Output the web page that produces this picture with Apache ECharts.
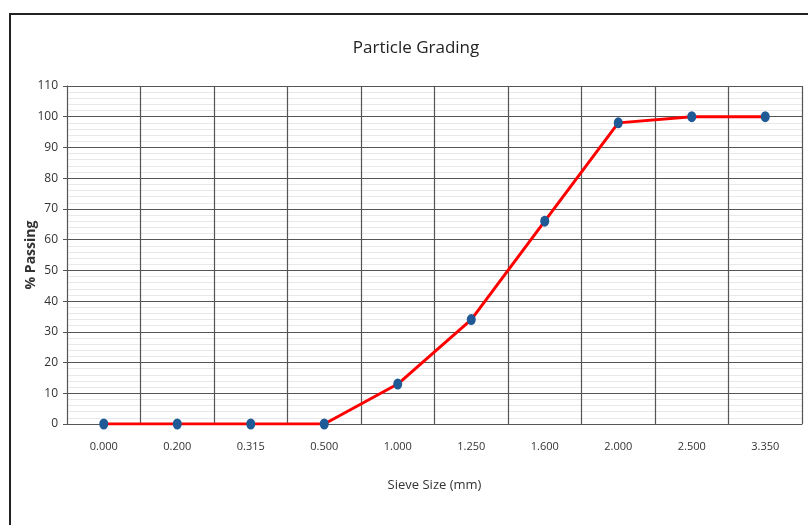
<!DOCTYPE html>
<html><head><meta charset="utf-8">
<script src="https://cdn.jsdelivr.net/npm/echarts@6/dist/echarts.min.js"></script>
<style>html,body{margin:0;padding:0;background:#fff}#c{width:808px;height:525px;position:relative}
#frame{position:absolute;left:9px;top:13px;width:820px;height:540px;border-left:2px solid #222;border-top:2px solid #222;pointer-events:none}</style>
</head><body><div id="c"></div><div id="frame"></div>
<script>
const sieveSizes = ['0.000','0.200','0.315','0.500','1.000','1.250','1.600','2.000','2.500','3.350'];
const passing = [0, 0, 0, 0, 13, 34, 66, 98, 100, 100];
const yTicks = {min: 0, max: 110, interval: 10};
const font = '"Open Sans", sans-serif';
const chart = echarts.init(document.getElementById('c'));
chart.setOption({
  animation: false,
  title: {text: 'Particle Grading', left: 411, top: 35, textAlign: 'center',
    textStyle: {fontFamily: font, fontSize: 17, fontWeight: 'normal', color: '#222'}},
  grid: {left: 67, right: 6, top: 86, bottom: 101},
  xAxis: {type: 'category', data: sieveSizes, boundaryGap: true,
    name: 'Sieve Size (mm)', nameLocation: 'middle', nameGap: 55, nameMoveOverlap: false,
    nameTextStyle: {fontFamily: font, fontSize: 13, color: '#333'},
    axisLine: {show: true, lineStyle: {color: '#555'}}, axisTick: {show: false},
    axisLabel: {fontFamily: font, fontSize: 11, color: '#333', margin: 17},
    splitLine: {show: true, lineStyle: {color: '#555', width: 1.2}}},
  yAxis: {type: 'value', min: yTicks.min, max: yTicks.max, interval: yTicks.interval,
    name: '% Passing', nameLocation: 'middle', nameGap: 29, nameRotate: 90, nameMoveOverlap: false,
    nameTextStyle: {fontFamily: font, fontSize: 14, fontWeight: 'bold', color: '#333'},
    axisLine: {show: true, lineStyle: {color: '#555'}},
    axisTick: {show: true, length: 4, lineStyle: {color: '#555'}},
    axisLabel: {fontFamily: font, fontSize: 12, color: '#333', margin: 9},
    splitLine: {show: true, lineStyle: {color: '#555', width: 1.2}},
    minorTick: {show: false, splitNumber: 5},
    minorSplitLine: {show: true, lineStyle: {color: '#e8e8e8', width: 1}}},
  series: [{type: 'line', data: passing, smooth: false,
    lineStyle: {color: '#ff0000', width: 3},
    symbol: 'circle', symbolSize: [9, 11],
    itemStyle: {color: '#1f5a96'}}]
});
</script></body></html>
